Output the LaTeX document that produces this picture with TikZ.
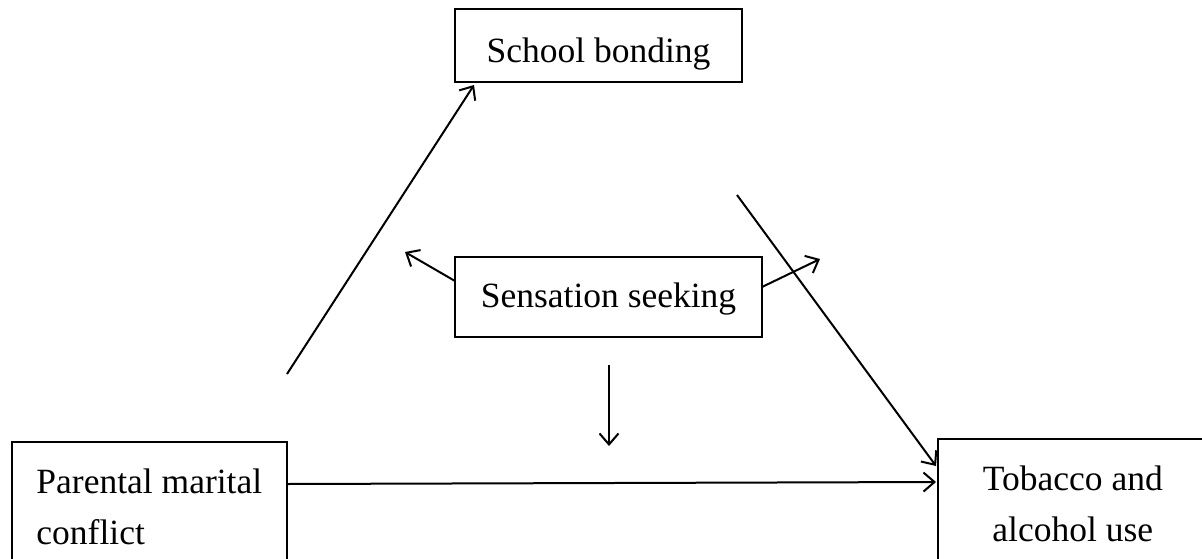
\documentclass[tikz,border=0pt]{standalone}
\usepackage{fontspec}
\setmainfont{Liberation Serif}
\usetikzlibrary{arrows.meta}
\begin{document}
\begin{tikzpicture}[x=1pt,y=-1pt,
  box/.style={draw, line width=1.6pt, inner sep=0pt, font=\fontsize{35.5}{51}\selectfont},
  arr/.style={-{Straight Barb[length=11pt,width=19pt]}, line width=2pt}]
\useasboundingbox (0,0) rectangle (1202,558);
\clip (0,0) rectangle (1202,558);
\node[box, minimum width=287pt, text height=53pt, text depth=20pt, anchor=base] (school) at (598.5,62) {School bonding};
\node[box, minimum width=307pt, text height=50pt, text depth=30pt, anchor=base] (sens) at (608.5,307) {Sensation seeking};
\node[box, anchor=north west, minimum width=275pt, minimum height=130pt, align=left] (parent) at (11,441) {Parental marital\\conflict};
\node[box, anchor=north west, minimum width=270pt, minimum height=130pt, align=center] (tobacco) at (937,438) {Tobacco and\\alcohol use};
% free ends
\coordinate (p1) at (287,374);
\coordinate (p2) at (474,85);
\coordinate (s1) at (455,281);
\coordinate (s2) at (405,252);
\coordinate (s3) at (762,287);
\coordinate (s4) at (820,259);
\coordinate (d1) at (737,195);
\coordinate (d2) at (936,466);
\coordinate (h1) at (286,484);
\coordinate (h2) at (936,482);
\coordinate (v1) at (609,365);
\coordinate (v2) at (609,446);
\draw[arr] (p1) -- (p2);
\draw[arr] (s1) -- (s2);
\draw[arr] (s3) -- (s4);
\draw[arr] (d1) -- (d2);
\draw[arr] (h1) -- (h2);
\draw[arr] (v1) -- (v2);
\end{tikzpicture}
\end{document}
